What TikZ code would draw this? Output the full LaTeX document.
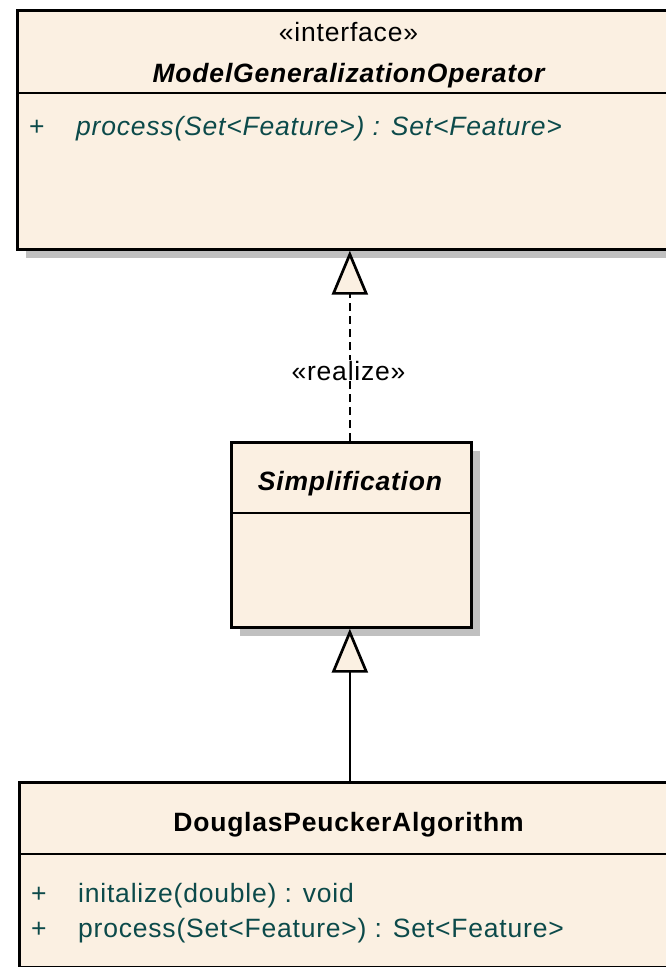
\documentclass[tikz,border=0pt]{standalone}
\usepackage{fontspec}
\setmainfont{Liberation Sans}[LetterSpace=3]
\usetikzlibrary{arrows.meta,shadows}
\definecolor{boxfill}{RGB}{251,240,226}
\definecolor{shadowgray}{RGB}{192,192,192}
\definecolor{methcol}{RGB}{12,74,74}
\tikzset{
  classbox/.style={draw=black, line width=2.7pt, fill=boxfill, anchor=north west, inner sep=0pt,
    drop shadow={shadow xshift=9pt, shadow yshift=-9pt, fill=shadowgray, opacity=1}},
  sepline/.style={draw=black, line width=2.7pt},
  txt/.style={anchor=base, inner sep=0pt, font=\fontsize{26.5}{30}\selectfont},
  meth/.style={txt, anchor=base west, text=methcol},
  conn/.style={line width=2.7pt, draw=black},
  gentip/.style={-{Triangle[length=44pt, width=36pt, fill=boxfill, line width=2.7pt]}},
}
\begin{document}
\begin{tikzpicture}[x=1pt, y=-1pt]
\useasboundingbox (0,0) rectangle (666,967);
\clip (0,0) rectangle (666,967);
\fill[white] (0,0) rectangle (666,967);
% boxes
\node[classbox, minimum width=665pt, minimum height=239pt] (mgo) at (16,9) {};
\node[classbox, minimum width=240pt, minimum height=185pt] (simp) at (230,441) {};
\node[classbox, minimum width=661pt, minimum height=185pt] (dpa) at (18,781) {};
% separators
\coordinate (s1) at (0,93);
\coordinate (s2) at (0,513);
\coordinate (s3) at (0,854);
\draw[sepline] (mgo.west |- s1) -- (mgo.east |- s1);
\draw[sepline] (simp.west |- s2) -- (simp.east |- s2);
\draw[sepline] (dpa.west |- s3) -- (dpa.east |- s3);
% texts
\node[txt] (st1) at (348.5,41) {«interface»};
\node[txt, font=\fontsize{26.5}{30}\selectfont\bfseries\itshape] (n1) at (348.5,82) {ModelGeneralizationOperator};
\node[meth] (p1) at (29,135) {+};
\node[meth, font=\fontsize{26.5}{30}\selectfont\itshape] (m1) at (76,135) {process(Set<Feature>) : Set<Feature>};
\node[txt, font=\fontsize{26.5}{30}\selectfont\bfseries\itshape] (n2) at (350,490) {Simplification};
\node[txt, font=\fontsize{26.5}{30}\selectfont\bfseries] (n3) at (348.5,831) {DouglasPeuckerAlgorithm};
\node[meth] (p2) at (31,902) {+};
\node[meth] (m2) at (78,902) {initalize(double) : void};
\node[meth] (p3) at (31,937) {+};
\node[meth] (m3) at (78,937) {process(Set<Feature>) : Set<Feature>};
% connectors
\draw[conn, gentip, dash pattern=on 8pt off 5pt] (mgo.south |- simp.north) -- (mgo.south);
\node[txt, fill=white, inner sep=1pt] (rl) at (348.5,380) {«realize»};
\draw[conn, gentip] (mgo.south |- dpa.north) -- (mgo.south |- simp.south);
\end{tikzpicture}
\end{document}
